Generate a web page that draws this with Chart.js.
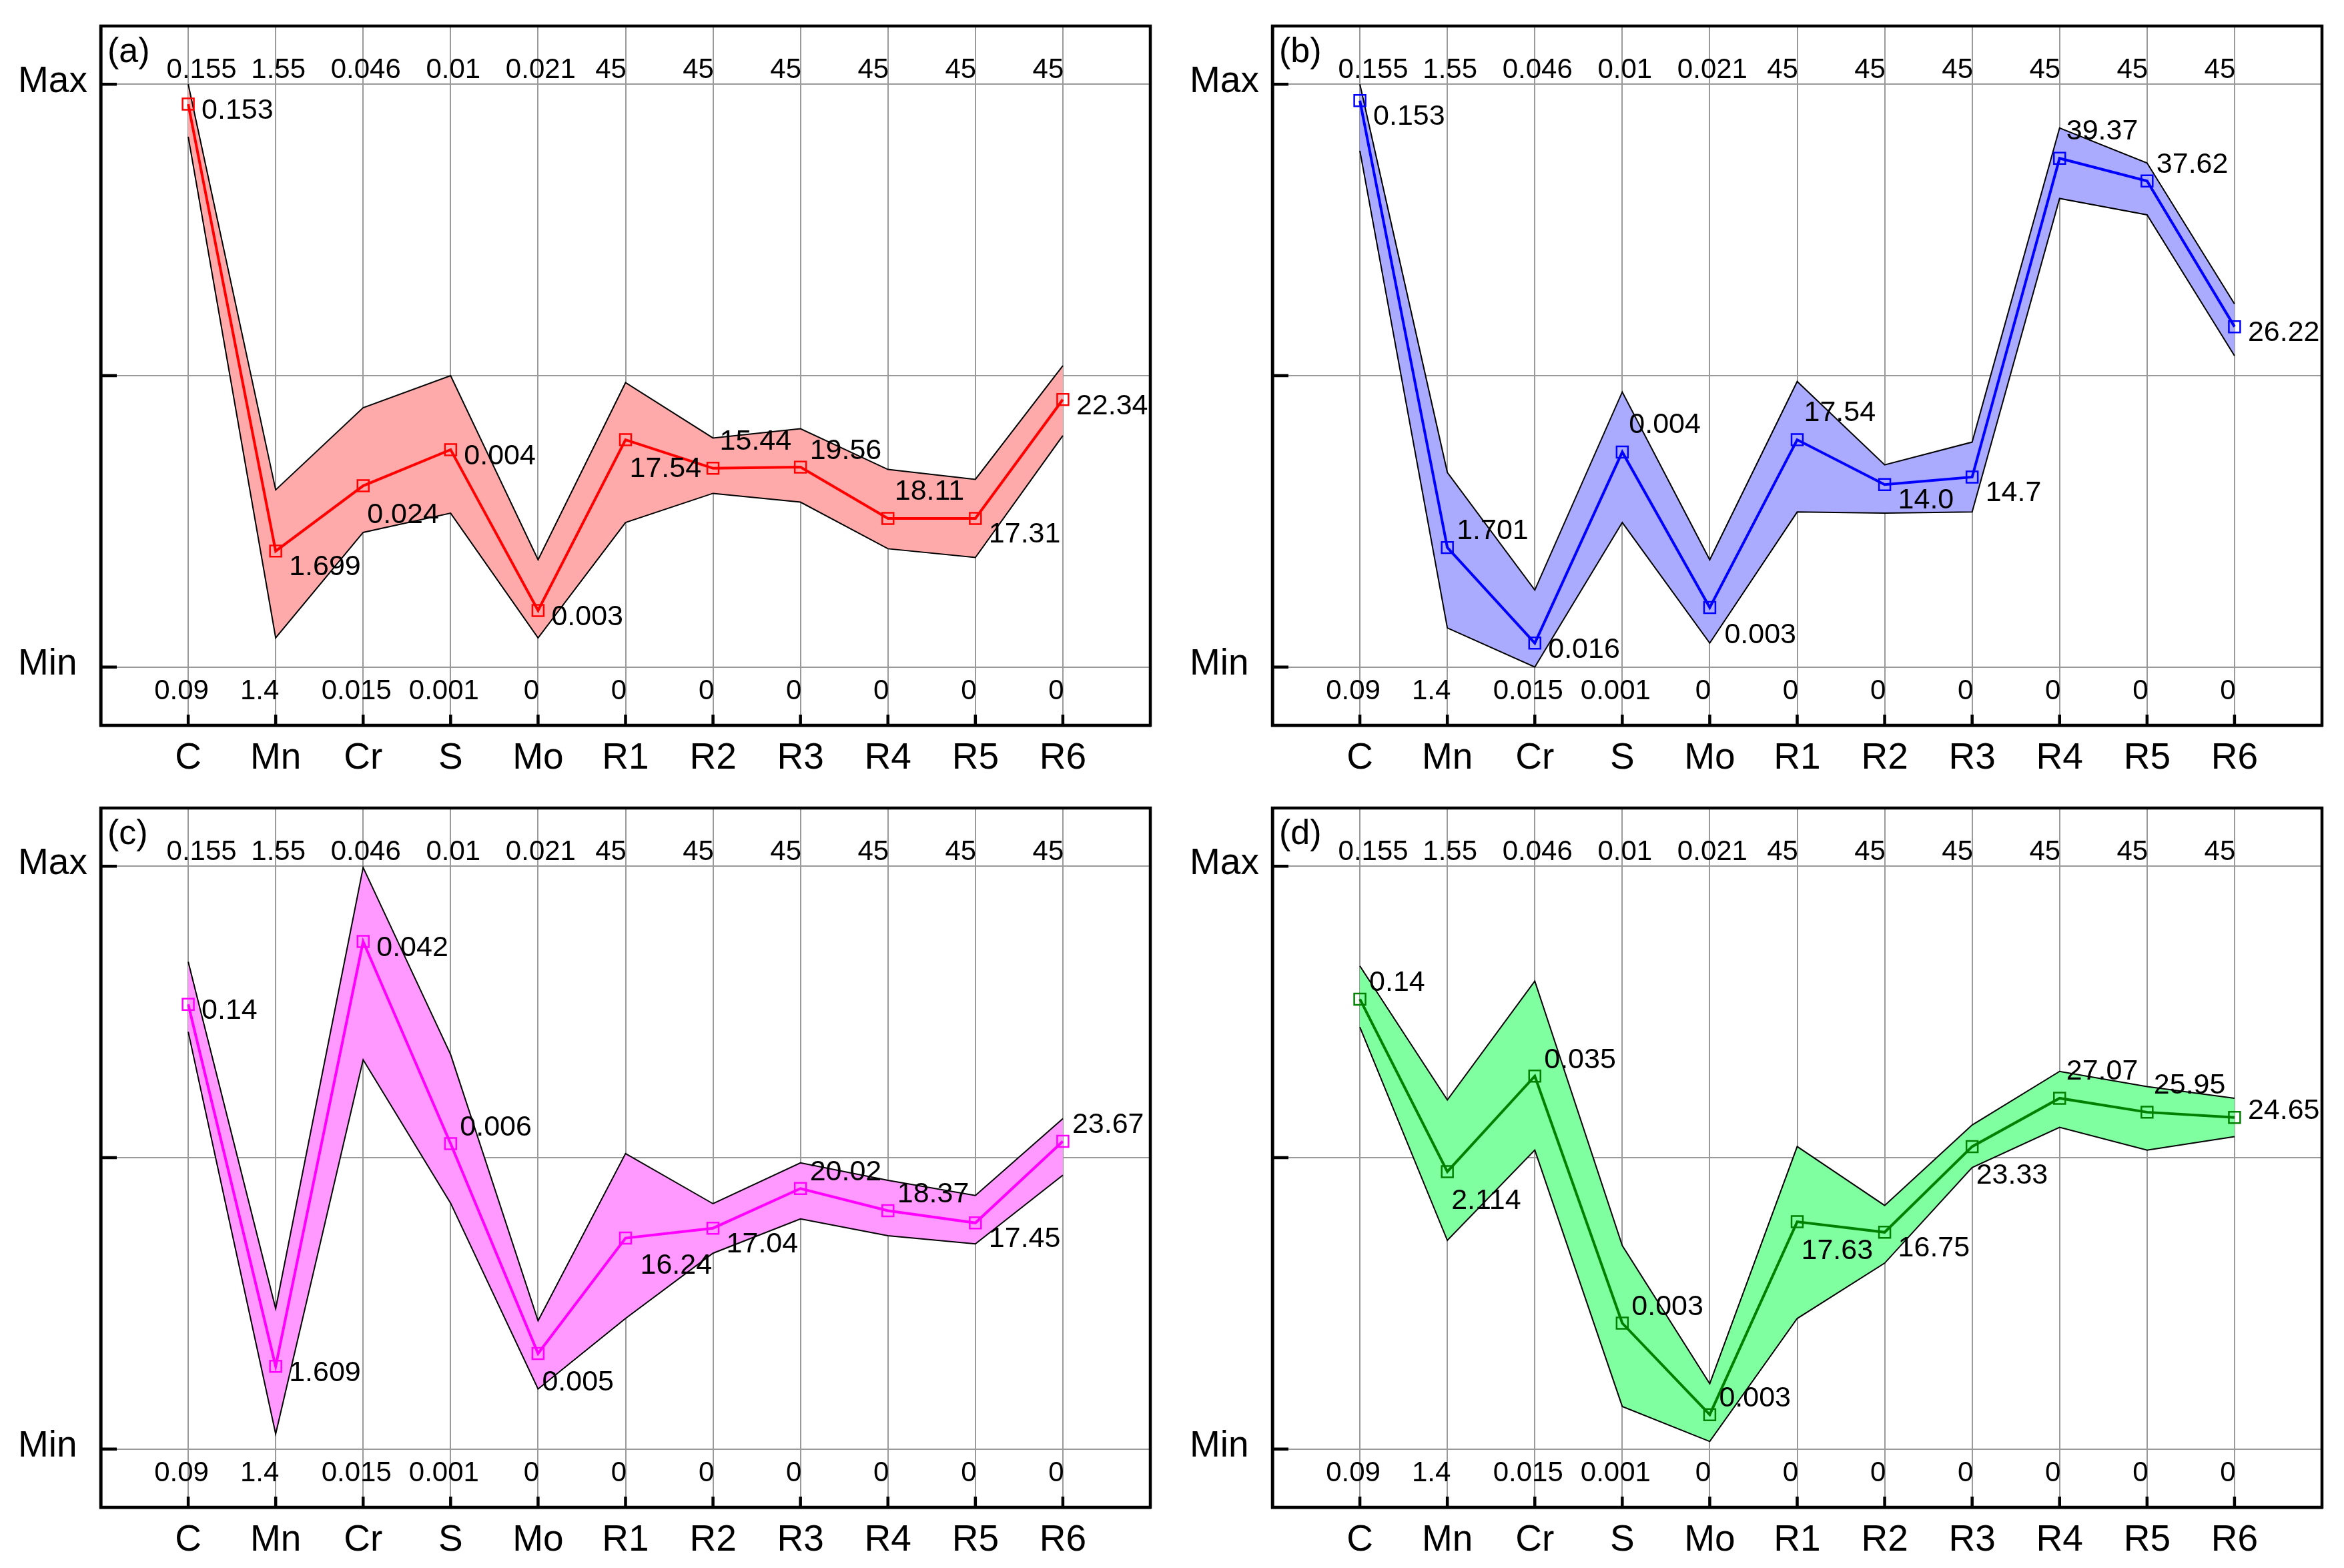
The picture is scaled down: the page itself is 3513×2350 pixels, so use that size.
<!DOCTYPE html>
<html>
<head>
<meta charset="utf-8">
<script src="https://cdn.jsdelivr.net/npm/chart.js@4.4.1/dist/chart.umd.min.js"></script>
<style>
  html, body { margin: 0; padding: 0; background: #fff; }
  body { width: 3513px; height: 2350px; position: relative; overflow: hidden; }
  canvas { position: absolute; }
</style>
</head>
<body>
<canvas id="pa" width="1756" height="1175" style="left:0px;top:0px"></canvas>
<canvas id="pb" width="1756" height="1175" style="left:1756px;top:0px"></canvas>
<canvas id="pc" width="1756" height="1175" style="left:0px;top:1172px"></canvas>
<canvas id="pd" width="1756" height="1175" style="left:1756px;top:1172px"></canvas>
<script>
// axes of the parallel plot
const categories = ['C', 'Mn', 'Cr', 'S', 'Mo', 'R1', 'R2', 'R3', 'R4', 'R5', 'R6'];
const maxLabels = ['0.155', '1.55', '0.046', '0.01', '0.021', '45', '45', '45', '45', '45', '45'];
const minLabels = ['0.09', '1.4', '0.015', '0.001', '0', '0', '0', '0', '0', '0', '0'];

// normalised positions (0 = Min, 1 = Max)
const aMid   = [0.966, 0.199, 0.311, 0.373, 0.097, 0.390, 0.341, 0.343, 0.255, 0.255, 0.459];
const aUpper = [1.000, 0.304, 0.445, 0.500, 0.184, 0.488, 0.393, 0.409, 0.339, 0.322, 0.517];
const aLower = [0.910, 0.050, 0.231, 0.264, 0.050, 0.248, 0.298, 0.283, 0.203, 0.188, 0.397];
const aText  = ['0.153', '1.699', '0.024', '0.004', '0.003', '17.54', '15.44', '19.56', '18.11', '17.31', '22.34'];

const bMid   = [0.972, 0.205, 0.041, 0.369, 0.102, 0.390, 0.313, 0.326, 0.873, 0.834, 0.584];
const bUpper = [1.000, 0.334, 0.132, 0.472, 0.184, 0.490, 0.347, 0.386, 0.925, 0.865, 0.623];
const bLower = [0.886, 0.067, 0.000, 0.248, 0.041, 0.266, 0.264, 0.266, 0.804, 0.776, 0.534];
const bText  = ['0.153', '1.701', '0.016', '0.004', '0.003', '17.54', '14.0', '14.7', '39.37', '37.62', '26.22'];

const cMid   = [0.763, 0.142, 0.871, 0.524, 0.164, 0.362, 0.379, 0.447, 0.409, 0.388, 0.528];
const cUpper = [0.836, 0.241, 0.998, 0.677, 0.220, 0.507, 0.421, 0.491, 0.461, 0.435, 0.567];
const cLower = [0.716, 0.026, 0.668, 0.422, 0.103, 0.224, 0.336, 0.395, 0.366, 0.352, 0.470];
const cText  = ['0.14', '1.609', '0.042', '0.006', '0.005', '16.24', '17.04', '20.02', '18.37', '17.45', '23.67'];

const dMid   = [0.772, 0.476, 0.640, 0.216, 0.059, 0.390, 0.372, 0.519, 0.602, 0.578, 0.569];
const dUpper = [0.829, 0.599, 0.803, 0.349, 0.112, 0.519, 0.418, 0.556, 0.648, 0.622, 0.602];
const dLower = [0.724, 0.358, 0.513, 0.073, 0.013, 0.224, 0.319, 0.483, 0.552, 0.513, 0.536];
const dText  = ['0.14', '2.114', '0.035', '0.003', '0.003', '17.63', '16.75', '23.33', '27.07', '25.95', '24.65'];

// where each value label sits relative to its marker
const labelOffsets = {
  r: [20, 10], ru: [20, -10], rb: [20, 24], rbb: [22, 42],
  ra: [14, -24], a: [10, -40], b: [6, 44]
};

const FONT = '"Liberation Sans", Arial, Helvetica, sans-serif';

const panelDecor = {
  id: 'panelDecor',
  afterDraw(chart, args, opts) {
    const { ctx, chartArea: a, scales: { x, y } } = chart;
    ctx.save();

    // frame
    ctx.strokeStyle = '#000';
    ctx.lineWidth = 4.5;
    ctx.strokeRect(a.left, a.top, a.right - a.left, a.bottom - a.top);

    // inward ticks
    ctx.beginPath();
    [0, 0.5, 1].forEach(v => {
      const py = y.getPixelForValue(v);
      ctx.moveTo(a.left, py);
      ctx.lineTo(a.left + 24, py);
    });
    categories.forEach((c, i) => {
      const px = x.getPixelForValue(i);
      ctx.moveTo(px, a.bottom);
      ctx.lineTo(px, a.bottom - 16);
    });
    ctx.stroke();

    ctx.fillStyle = '#000';
    ctx.textBaseline = 'middle';

    // range labels on each axis
    ctx.font = '42px ' + FONT;
    ctx.textAlign = 'center';
    const yMax = y.getPixelForValue(1);
    const yMin = y.getPixelForValue(0);
    categories.forEach((c, i) => {
      const px = x.getPixelForValue(i);
      const t = maxLabels[i];
      const dx = t.length > 2 ? (i === 0 ? 20 : 4) : -22;
      ctx.fillText(t, px + dx, yMax - 21);
      ctx.fillText(minLabels[i], px - (minLabels[i] === '1.4' ? 24 : 10), yMin + 37);
    });

    // category names
    ctx.font = '55px ' + FONT;
    categories.forEach((c, i) => {
      ctx.fillText(c, x.getPixelForValue(i), a.bottom + 50);
    });

    // Max / Min
    ctx.textAlign = 'left';
    ctx.fillText('Max', a.left - 124, yMax - 4);
    ctx.fillText('Min', a.left - 124, yMin - 4);

    // panel letter
    ctx.font = '52px ' + FONT;
    ctx.fillText(opts.letter, a.left + 10, a.top + 40);

    // value labels
    ctx.font = '43px ' + FONT;
    const meta = chart.getDatasetMeta(0);
    meta.data.forEach((pt, i) => {
      const o = labelOffsets[opts.place[i]];
      ctx.fillText(opts.text[i], pt.x + o[0], pt.y + o[1]);
    });

    ctx.restore();
  }
};

function toPoints(arr) {
  return arr.map((v, i) => ({ x: i, y: v }));
}

function makePanel(id, letter, mid, upper, lower, text, place, lineColor, bandColor) {
  new Chart(document.getElementById(id), {
    type: 'line',
    data: {
      datasets: [
        {
          data: toPoints(mid),
          borderColor: lineColor,
          borderWidth: 4,
          pointStyle: 'rect',
          pointRadius: 12,
          pointBorderWidth: 2.5,
          pointBorderColor: lineColor,
          pointBackgroundColor: 'rgba(0,0,0,0)',
          fill: false,
          order: 0
        },
        {
          data: toPoints(upper),
          borderColor: '#000',
          borderWidth: 2,
          pointRadius: 0,
          backgroundColor: bandColor,
          fill: '+1',
          order: 1
        },
        {
          data: toPoints(lower),
          borderColor: '#000',
          borderWidth: 2,
          pointRadius: 0,
          fill: false,
          order: 2
        }
      ]
    },
    options: {
      responsive: false,
      animation: false,
      devicePixelRatio: 1,
      layout: { padding: { top: 39, right: 32, left: 0, bottom: 0 } },
      plugins: {
        legend: { display: false },
        tooltip: { enabled: false },
        filler: { drawTime: 'beforeDatasetsDraw' },
        panelDecor: { letter: letter, text: text, place: place }
      },
      scales: {
        x: {
          type: 'linear',
          bounds: 'data',
          min: -1,
          max: 11,
          afterBuildTicks: s => { s.ticks = categories.map((c, i) => ({ value: i })); },
          afterFit: s => { s.height = 88; },
          ticks: { display: false },
          grid: { color: '#9a9a9a', lineWidth: 2, drawTicks: false },
          border: { color: '#000', width: 4.5 }
        },
        y: {
          type: 'linear',
          bounds: 'data',
          min: -0.1,
          max: 1.1,
          afterBuildTicks: s => { s.ticks = [{ value: 0 }, { value: 0.5 }, { value: 1 }]; },
          afterFit: s => { s.width = 151; },
          ticks: { display: false },
          grid: { color: '#9a9a9a', lineWidth: 2, drawTicks: false },
          border: { color: '#000', width: 4.5 }
        }
      }
    },
    plugins: [panelDecor]
  });
}

makePanel('pa', '(a)', aMid, aUpper, aLower, aText,
  ['r', 'rb', 'b', 'r', 'r', 'b', 'a', 'ra', 'a', 'rb', 'r'], '#ff0000', '#ffaaaa');
makePanel('pb', '(b)', bMid, bUpper, bLower, bText,
  ['rb', 'ra', 'r', 'a', 'rbb', 'a', 'rb', 'rb', 'a', 'ra', 'r'], '#0000ff', '#aaaaff');
makePanel('pc', '(c)', cMid, cUpper, cLower, cText,
  ['r', 'r', 'r', 'ra', 'b', 'rbb', 'rb', 'ra', 'ra', 'rb', 'ra'], '#ff00ff', '#ff99ff');
makePanel('pd', '(d)', dMid, dUpper, dLower, dText,
  ['ra', 'b', 'ra', 'ra', 'ra', 'b', 'rb', 'b', 'a', 'a', 'ru'], '#008000', '#80ffa0');
</script>
</body>
</html>
